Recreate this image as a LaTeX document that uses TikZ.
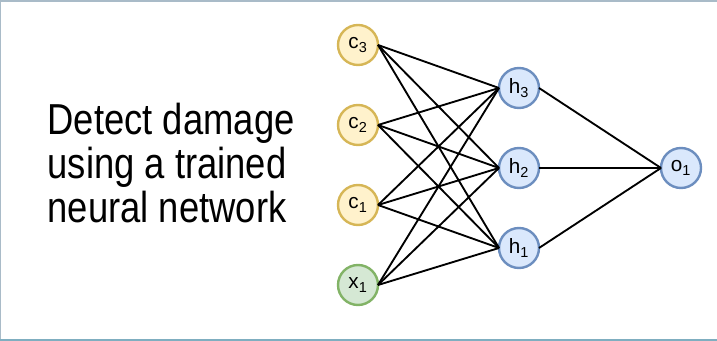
\documentclass[tikz,border=0pt]{standalone}
\usepackage{fontspec}
\setmainfont{Liberation Sans}
\newfontfamily\titlefont[FakeStretch=0.84]{Liberation Sans}
\usepackage{tikz}
\usetikzlibrary{positioning}
\definecolor{condfill}{HTML}{FFF2CC}
\definecolor{condline}{HTML}{D6B656}
\definecolor{infill}{HTML}{D5E8D4}
\definecolor{inline}{HTML}{82B366}
\definecolor{hidfill}{HTML}{DAE8FC}
\definecolor{hidline}{HTML}{6C8EBF}
\definecolor{frametop}{HTML}{A9BBC8}
\definecolor{framebot}{HTML}{7FAEC0}

\begin{document}
\begin{tikzpicture}[
    x=0.75pt, y=-0.75pt,
    node distance=30pt and 91.5pt,
    neuron/.style={circle, line width=1.8pt, minimum size=30pt, inner sep=0pt,
                   outer sep=0pt, font=\fontsize{15.5}{15.5}\selectfont},
    cond/.style={neuron, draw=condline, fill=condfill},
    feat/.style={neuron, draw=inline, fill=infill},
    hid/.style={neuron, draw=hidline, fill=hidfill},
    link/.style={line width=1.4pt, black},
]
    \useasboundingbox (0,0) rectangle (717,341);

    % frame
    \draw[frametop, line width=1.5pt] (0,1) -- (717,1);
    \draw[frametop, line width=1.2pt] (0.6,0) -- (0.6,341);
    \draw[framebot, line width=1.5pt] (0,340) -- (717,340);

    \node[anchor=base west, align=left, font=\titlefont\fontsize{32.5}{33}\selectfont]
        (task) at (43,223) {Detect damage\\using a trained\\neural network};

    % input layer
    \node[cond] (c3) at (358,45) {c\textsubscript{3}};
    \node[cond, below=of c3] (c2) {c\textsubscript{2}};
    \node[cond, below=of c2] (c1) {c\textsubscript{1}};
    \node[feat, below=of c1] (x1) {x\textsubscript{1}};

    % hidden layer
    \node[hid] (h3) at (519,88) {h\textsubscript{3}};
    \node[hid, below=of h3] (h2) {h\textsubscript{2}};
    \node[hid, below=of h2] (h1) {h\textsubscript{1}};

    % output
    \node[hid, right=of h2] (o1) {o\textsubscript{1}};

    \draw[link] (c3.east) -- (h3.west);
    \draw[link] (c3.east) -- (h2.west);
    \draw[link] (c3.east) -- (h1.west);
    \draw[link] (c2.east) -- (h3.west);
    \draw[link] (c2.east) -- (h2.west);
    \draw[link] (c2.east) -- (h1.west);
    \draw[link] (c1.east) -- (h3.west);
    \draw[link] (c1.east) -- (h2.west);
    \draw[link] (c1.east) -- (h1.west);
    \draw[link] (x1.east) -- (h3.west);
    \draw[link] (x1.east) -- (h2.west);
    \draw[link] (x1.east) -- (h1.west);

    \draw[link] (h3.east) -- (o1.west);
    \draw[link] (h2.east) -- (o1.west);
    \draw[link] (h1.east) -- (o1.west);
\end{tikzpicture}
\end{document}
